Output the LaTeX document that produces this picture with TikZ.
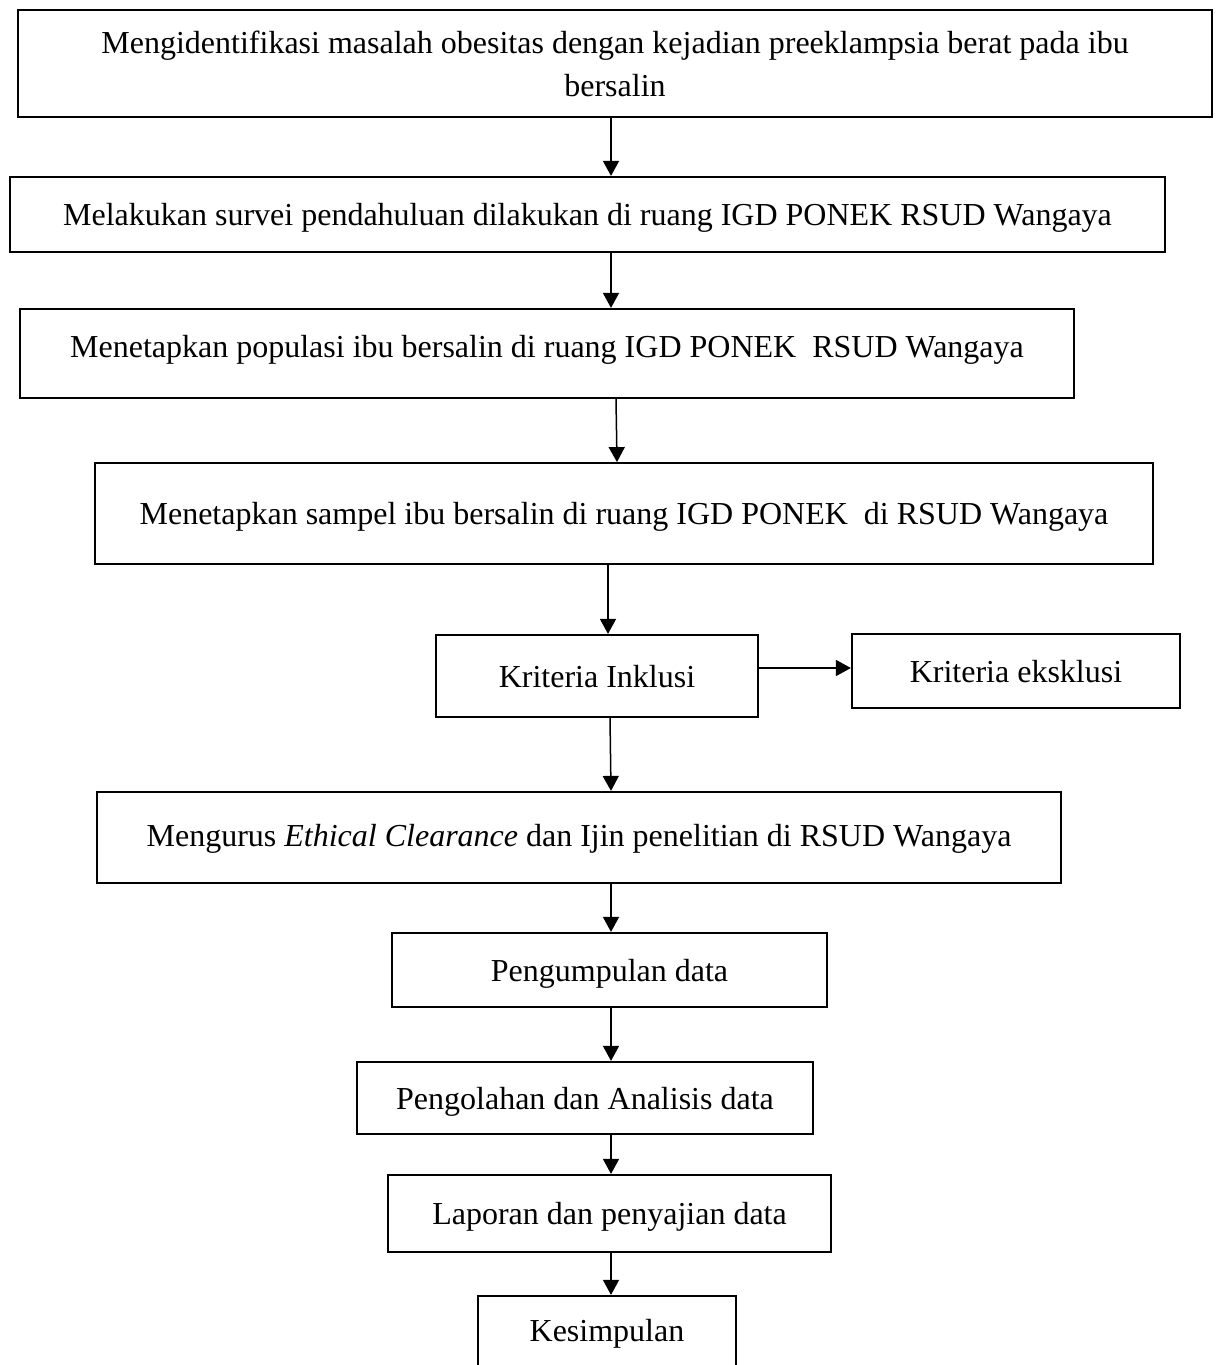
\documentclass[tikz,border=0pt]{standalone}
\usepackage{fontspec}
\setmainfont{Liberation Serif}
\usetikzlibrary{arrows.meta}
\tikzset{
  box/.style={draw=black, line width=1.1pt, fill=white, inner sep=0pt,
    font=\fontsize{16}{21.5}\selectfont, text height=14.5pt, text depth=3.5pt},
  arr/.style={line width=0.75pt, -{Triangle[width=8pt,length=7.5pt]}}
}
\begin{document}
\begin{tikzpicture}[x=0.5pt,y=-0.5pt]
\useasboundingbox (0,0) rectangle (1217,1365);
\clip (0,0) rectangle (1217,1365);
\node[box, text height=, text depth=, align=center, minimum width=597pt, minimum height=53.5pt] (b1) at (615,63.5)
  {Mengidentifikasi masalah obesitas dengan kejadian preeklampsia berat pada ibu\\bersalin};
\node[box, minimum width=577.5pt, minimum height=37.5pt] (b2) at (587.5,214.5)
  {Melakukan survei pendahuluan dilakukan di ruang IGD PONEK RSUD Wangaya};
\node[box, text depth=10.5pt, minimum width=527pt, minimum height=44.5pt] (b3) at (547,353.5)
  {Menetapkan populasi ibu bersalin di ruang IGD PONEK\ \ RSUD Wangaya};
\node[box, line width=0.9pt, minimum width=529pt, minimum height=50.5pt] (b4) at (624,513.5)
  {Menetapkan sampel ibu bersalin di ruang IGD PONEK\ \ di RSUD Wangaya};
\node[box, minimum width=161pt, minimum height=41pt] (ink) at (597,676)
  {Kriteria Inklusi};
\node[box, minimum width=164pt, minimum height=37pt] (eks) at (1016,671)
  {Kriteria eksklusi};
\node[box, text height=12.5pt, minimum width=482pt, minimum height=45.5pt] (b6) at (579,837.5)
  {Mengurus \textit{Ethical Clearance} dan Ijin penelitian di RSUD Wangaya};
\node[box, minimum width=217.5pt, minimum height=37pt] (b7) at (609.5,970)
  {Pengumpulan data};
\node[box, minimum width=228pt, minimum height=36pt] (b8) at (585,1098)
  {Pengolahan dan Analisis data};
\node[box, minimum width=221.5pt, minimum height=38.5pt] (b9) at (609.5,1213.5)
  {Laporan dan penyajian data};
\node[box, text depth=11.5pt, minimum width=129pt, minimum height=42pt] (b10) at (607,1338)
  {Kesimpulan};
\coordinate (xa) at (611,0);
\coordinate (xb) at (616,0);
\coordinate (xc) at (617,0);
\coordinate (xd) at (608,0);
\coordinate (xe) at (610,0);
\coordinate (yk) at (0,668);
\draw[arr] (b1.south -| xa) -- (b2.north -| xa);
\draw[arr] (b2.south -| xa) -- (b3.north -| xa);
\draw[arr] (b3.south -| xb) -- (b4.north -| xc);
\draw[arr] (b4.south -| xd) -- (ink.north -| xd);
\draw[arr] (ink.south -| xe) -- (b6.north -| xa);
\draw[arr] (ink.east |- yk) -- (eks.west |- yk);
\draw[arr] (b6.south -| xa) -- (b7.north -| xa);
\draw[arr] (b7.south -| xa) -- (b8.north -| xa);
\draw[arr] (b8.south -| xa) -- (b9.north -| xa);
\draw[arr] (b9.south -| xa) -- (b10.north -| xa);
\end{tikzpicture}
\end{document}
